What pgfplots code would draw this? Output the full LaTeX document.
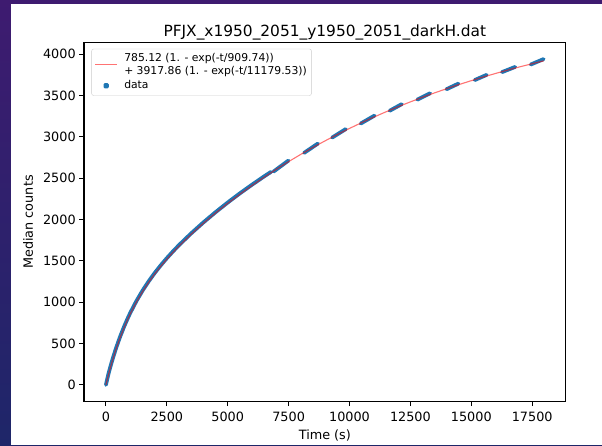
\documentclass[border=0pt]{standalone}
\usepackage{pgfplots}
\pgfplotsset{compat=1.18}
\usepackage{pgfplotstable}
\usepackage{fontspec}
\setmainfont{DejaVu Sans}
\definecolor{tabblue}{HTML}{1F77B4}
\definecolor{bgtop}{RGB}{62,27,112}
\definecolor{bgbot}{RGB}{30,38,105}

\pgfplotstableread{
t y
0 0
50 64
100 128
150 183
200 236
250 287
300 336
400 429
500 515
600 596
750 707
900 808
1000 871
1250 1013
1500 1138
1750 1250
2000 1352
2250 1445
2500 1532
2750 1613
3000 1690
3500 1832
4000 1964
4500 2088
5000 2205
5500 2316
6000 2421
6500 2522
6780 2576
6830 nan
6880 2579
7490 2712
7800 nan
8135 2805
8700 2918
9000 nan
9285 2990
9845 3093
10100 nan
10460 3160
11025 3256
11300 nan
11650 3315
12145 3395
12400 nan
12785 3449
13310 3526
13600 nan
13980 3575
14470 3643
14800 nan
15140 3686
15630 3749
15900 nan
16260 3782
16800 3845
17100 nan
17440 3874
17970 3940
}\datatable

\pgfplotstableread{
t y
0 0
50 59.5
100 116.6
150 171.6
200 224.4
250 275.3
300 324.3
400 417.0
500 503.3
600 583.8
750 695.0
900 796.2
1000 858.9
1250 1000.9
1500 1126.1
1750 1238.1
2000 1339.7
2250 1433.2
2500 1519.8
2750 1601.3
3000 1678.2
3500 1821.5
4000 1953.8
4500 2077.7
5000 2194.7
5500 2305.7
6000 2411.1
6500 2511.9
7000 2607.9
7500 2699.8
8000 2787.5
8500 2871.3
9000 2951.4
9500 3028.0
10000 3101.3
10500 3171.4
11000 3238.3
11500 3302.4
12000 3363.7
12500 3422.3
13000 3478.3
13500 3531.9
14000 3583.0
14500 3632.1
15000 3678.9
15500 3723.7
16000 3766.5
16500 3807.5
17000 3846.7
17500 3884.1
17970 3917.8
}\fittable

\begin{document}
\begin{tikzpicture}
\useasboundingbox (0pt,0pt) rectangle (602pt,445pt);
\shade[top color=bgtop, bottom color=bgbot] (0pt,0pt) rectangle (602pt,445pt);
\fill[white] (11pt,0pt) rectangle (602pt,441pt);
\begin{axis}[
  at={(84pt,43.7pt)}, anchor=south west,
  scale only axis, width=481.7pt, height=358.6pt,
  xmin=-900, xmax=18875, ymin=-199, ymax=4138,
  xtick={0,2500,...,17500}, ytick={0,500,...,4000},
  scaled x ticks=false, scaled y ticks=false,
  /pgf/number format/1000 sep={},
  /pgf/number format/assume math mode=true,
  tick align=outside, tick pos=left,
  major tick length=4.8pt,
  every tick/.style={black, line width=1.1pt},
  axis line style={line width=1.1pt},
  tick label style={font=\fontsize{12.8}{15}\selectfont},
  xticklabel style={yshift=-2pt},
  title={PFJX\_x1950\_2051\_y1950\_2051\_darkH.dat},
  title style={font=\fontsize{15.4}{18}\selectfont, at={(axis description cs:0.5,1.0354)}, anchor=center, yshift=-8pt},
  xlabel={Time (s)},
  ylabel={Median counts},
  xlabel style={font=\fontsize{12.8}{15}\selectfont, at={(axis description cs:0.5,-0.094)}, anchor=center},
  ylabel style={font=\fontsize{12.8}{15}\selectfont, at={(axis description cs:-0.116,0.5)}, anchor=center},
  reverse legend,
  legend cell align=left,
  legend style={at={(axis description cs:0.0155,0.983)}, anchor=north west,
    draw=black!20, fill=white, rounded corners=2pt,
    font=\fontsize{10.8}{12.2}\selectfont,
    inner xsep=3pt, inner ysep=3pt, row sep=0pt,
    nodes={inner sep=1.5pt, text height=7.8pt, text depth=2.7pt},
    /tikz/every odd column/.style={column sep=5pt}},
]
\addplot[tabblue, line width=3.8pt, line cap=round, line join=round, unbounded coords=jump,
  legend image code/.code={\fill[tabblue] (11pt,0pt) circle (1.3pt);}]
  table[x=t,y=y] {\datatable};
\addlegendentry{data}
\addlegendimage{empty legend}
\addlegendentry{+ 3917.86 (1. - exp(-t/11179.53))}
\addplot[red, opacity=0.55, line width=1.1pt,
  legend image code/.code={\draw[red, line width=1.1pt] (0pt,-6pt) -- (22pt,-6pt);}]
  table[x=t,y=y] {\fittable};
\addlegendentry{785.12 (1. - exp(-t/909.74))}
\end{axis}
\end{tikzpicture}
\end{document}
